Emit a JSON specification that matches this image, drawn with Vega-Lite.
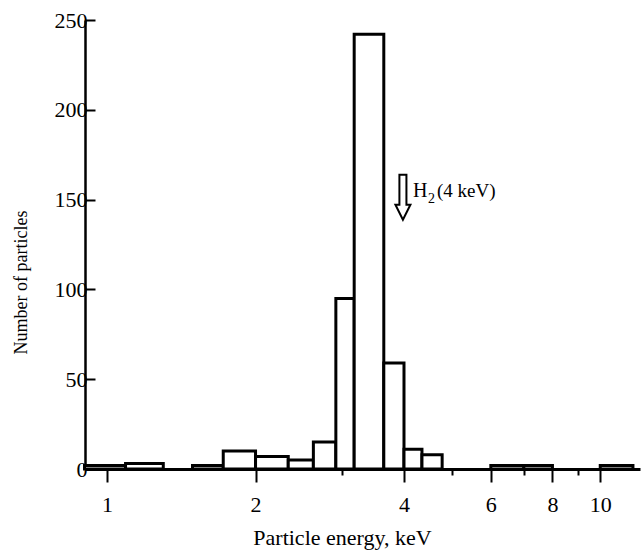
{
  "$schema": "https://vega.github.io/schema/vega-lite/v6.json",
  "width": 555,
  "height": 449,
  "autosize": {"type": "none"},
  "padding": {"left": 85, "top": 20, "right": 4, "bottom": 81},
  "background": "white",
  "config": {
    "view": {"stroke": null},
    "font": "Liberation Serif",
    "axis": {"grid": false, "domainColor": "black", "tickColor": "black", "labelColor": "black", "titleColor": "black", "labelFont": "Liberation Serif", "titleFont": "Liberation Serif", "titleFontWeight": "normal"}
  },
  "datasets": {
    "bins": [
      {"lo": 0.9, "hi": 1.09, "count": 2},
      {"lo": 1.09, "hi": 1.3, "count": 3},
      {"lo": 1.49, "hi": 1.72, "count": 2},
      {"lo": 1.72, "hi": 2.0, "count": 10},
      {"lo": 2.0, "hi": 2.33, "count": 7},
      {"lo": 2.33, "hi": 2.62, "count": 5},
      {"lo": 2.62, "hi": 2.91, "count": 15},
      {"lo": 2.91, "hi": 3.17, "count": 95},
      {"lo": 3.17, "hi": 3.64, "count": 242},
      {"lo": 3.64, "hi": 4.0, "count": 59},
      {"lo": 4.0, "hi": 4.35, "count": 11},
      {"lo": 4.35, "hi": 4.78, "count": 8},
      {"lo": 6.0, "hi": 7.0, "count": 2},
      {"lo": 7.0, "hi": 8.0, "count": 2},
      {"lo": 10.0, "hi": 11.65, "count": 2}
    ],
    "note": [
      {"energy": 3.98, "count": 151.3, "textx": 4.17, "texty": 151.6, "h": "H", "sub": "2", "rest": "(4 keV)"}
    ]
  },
  "layer": [
    {
      "data": {"name": "bins"},
      "mark": {"type": "rect", "fill": "white", "stroke": "black", "strokeWidth": 3},
      "encoding": {
        "x": {
          "field": "lo", "type": "quantitative",
          "scale": {"type": "log", "domain": [0.902, 12.04], "nice": false},
          "axis": {
            "title": "Particle energy, keV",
            "values": [1, 2, 3, 4, 5, 6, 7, 8, 9, 10],
            "format": "d",
            "labelExpr": "indexof([1,2,4,6,8,10], datum.value) >= 0 ? datum.label : ''",
            "tickSize": {"condition": {"test": "indexof([3,5,7,9], datum.value) >= 0", "value": 6}, "value": 13},
            "tickWidth": 2,
            "domainWidth": 3,
            "labelFontSize": 22,
            "labelPadding": 12,
            "titleFontSize": 22,
            "titleX": 257,
            "titleY": 75,
            "titleAlign": "center",
            "titleBaseline": "alphabetic"
          }
        },
        "x2": {"field": "hi"},
        "y": {
          "field": "count", "type": "quantitative",
          "scale": {"domain": [0, 250], "nice": false},
          "axis": {
            "title": "Number of particles",
            "values": [0, 50, 100, 150, 200, 250],
            "tickSize": -10,
            "tickWidth": 2,
            "domainWidth": 2.5,
            "labelFontSize": 22,
            "labelPadding": 8,
            "titleFontSize": 18,
            "titleAngle": -90,
            "titleX": -59,
            "titleY": 262,
            "titleAlign": "center",
            "titleBaseline": "alphabetic"
          }
        },
        "y2": {"datum": 0}
      }
    },
    {
      "data": {"name": "note"},
      "mark": {"type": "point", "shape": "M -0.156 -1 L 0.156 -1 L 0.156 0.333 L 0.333 0.333 L 0 1 L -0.333 0.333 L -0.156 0.333 Z", "size": 2025, "filled": false, "fill": "white", "fillOpacity": 1, "stroke": "black", "strokeWidth": 2, "opacity": 1},
      "encoding": {
        "x": {"field": "energy", "type": "quantitative"},
        "y": {"field": "count", "type": "quantitative"}
      }
    },
    {
      "data": {"name": "note"},
      "mark": {"type": "text", "align": "left", "baseline": "alphabetic", "fontSize": 20, "font": "Liberation Serif", "color": "black"},
      "encoding": {
        "x": {"field": "textx", "type": "quantitative"},
        "y": {"field": "texty", "type": "quantitative"},
        "text": {"field": "h"}
      }
    },
    {
      "data": {"name": "note"},
      "mark": {"type": "text", "align": "left", "baseline": "alphabetic", "fontSize": 14, "dx": 15, "dy": 6, "font": "Liberation Serif", "color": "black"},
      "encoding": {
        "x": {"field": "textx", "type": "quantitative"},
        "y": {"field": "texty", "type": "quantitative"},
        "text": {"field": "sub"}
      }
    },
    {
      "data": {"name": "note"},
      "mark": {"type": "text", "align": "left", "baseline": "alphabetic", "fontSize": 19, "dx": 24, "font": "Liberation Serif", "color": "black"},
      "encoding": {
        "x": {"field": "textx", "type": "quantitative"},
        "y": {"field": "texty", "type": "quantitative"},
        "text": {"field": "rest"}
      }
    }
  ]
}
